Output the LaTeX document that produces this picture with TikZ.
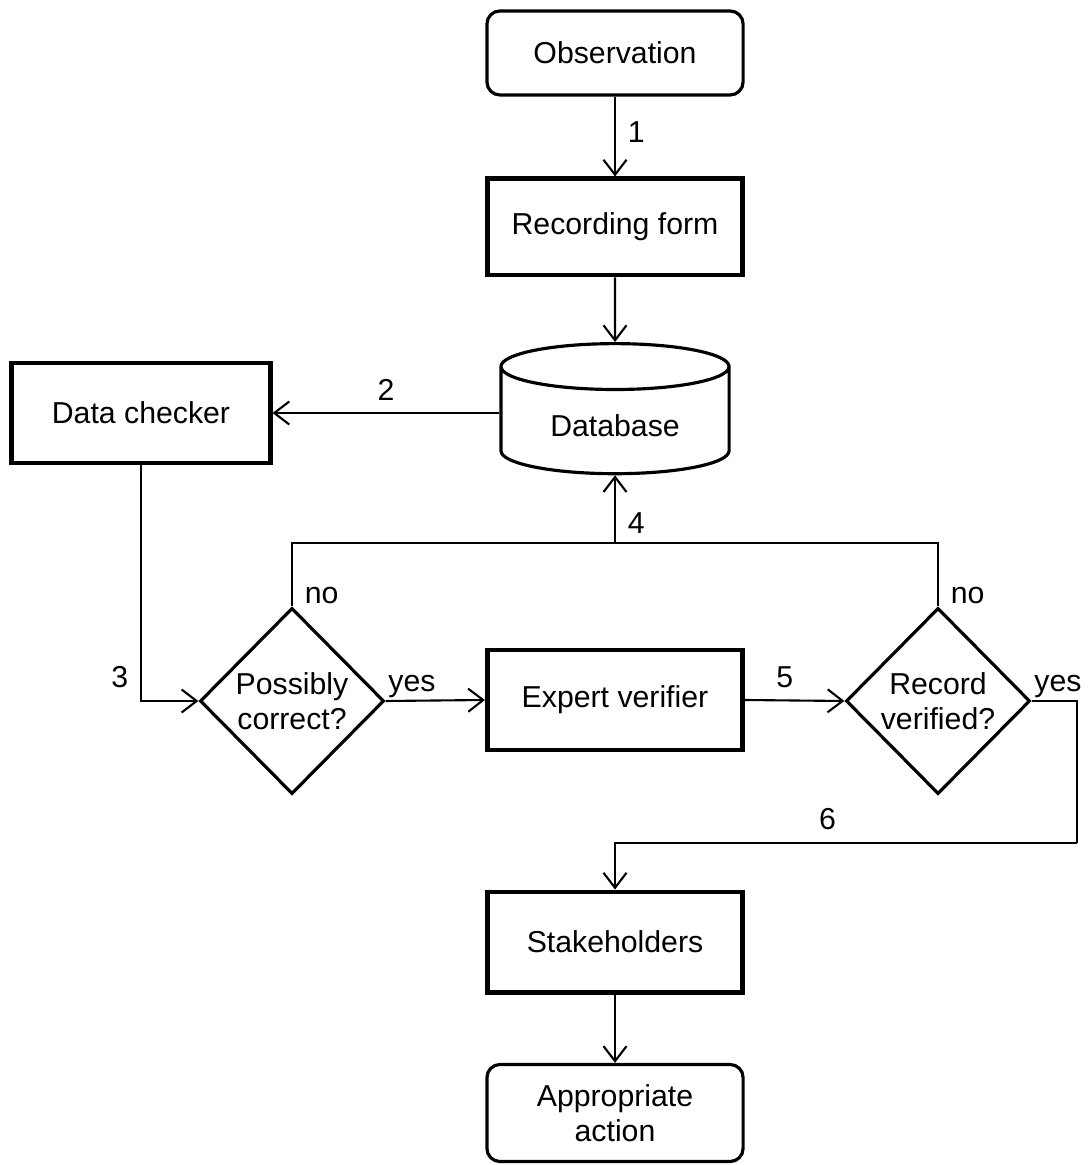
\documentclass[tikz,border=0pt]{standalone}
\usepackage{fontspec}
\setmainfont{Liberation Sans}
\usetikzlibrary{shapes.geometric,arrows.meta}
\begin{document}
\begin{tikzpicture}[x=0.01cm, y=-0.01cm, font=\fontsize{8.6}{10}\selectfont,
  roundbox/.style={draw, line width=0.9pt, rounded corners=0.13cm, minimum width=2.56cm, align=center},
  thickbox/.style={draw, line width=1.4pt, minimum width=2.55cm, minimum height=0.98cm, align=center},
  decision/.style={draw, diamond, line width=0.9pt, minimum width=1.84cm, minimum height=1.86cm, inner sep=0pt, align=center},
  link/.style={line width=0.6pt, -{Straight Barb[length=1.5mm, width=2.3mm]}}]
\useasboundingbox (0,0) rectangle (1089,1165);
\node[roundbox, minimum height=0.84cm] (obs) at (615,53) {Observation};
\node[thickbox, minimum height=0.96cm] (rec) at (615,227) {Recording form};
\node[draw, cylinder, shape border rotate=90, aspect=0.3, line width=0.9pt,
  minimum width=2.28cm, minimum height=1.3cm] (db) at (615,426) {Database};
\node[thickbox, minimum width=2.58cm, minimum height=1.0cm] (dc) at (141,413) {Data checker};
\node[decision] (pc) at (292,701) {Possibly\\correct?};
\node[thickbox, minimum height=1.0cm] (ev) at (615,700) {Expert verifier};
\node[decision] (rv) at (938,701) {Record\\verified?};
\node[thickbox, minimum height=1.0cm] (stk) at (615,942) {Stakeholders};
\node[roundbox, minimum height=0.97cm] (act) at (615,1113) {Appropriate\\action};
\coordinate (j4) at (615,543);
\coordinate (c6) at (1077,843);
\draw[link] (obs) -- node[right, pos=0.45] {1} (rec);
\draw[link] (rec) -- (db);
\draw[link] (dc -| db.west) -- node[above] {2} (dc);
\draw[link] (dc.south) |- node[above left] {3} (pc.west);
\draw[line width=0.6pt] (pc.north) |- node[pos=0, above right, yshift=-0.1cm] {no} (j4);
\draw[line width=0.6pt] (rv.north) |- node[pos=0, above right, yshift=-0.1cm] {no} (j4);
\draw[link] (j4) -- node[right, pos=0.3] {4} (db.south);
\draw[link] (pc.east) -- node[pos=0, above right, inner sep=0.5pt] {yes} (ev.west);
\draw[link] (ev.east) -- node[above, pos=0.4] {5} (rv.west);
\draw[line width=0.6pt] (rv.east) node[above right, inner sep=0.5pt] {yes} -| (c6);
\draw[link] (c6) -| node[above, pos=0.27] {6} (stk.north);
\draw[link] (stk) -- (act);
\end{tikzpicture}
\end{document}
